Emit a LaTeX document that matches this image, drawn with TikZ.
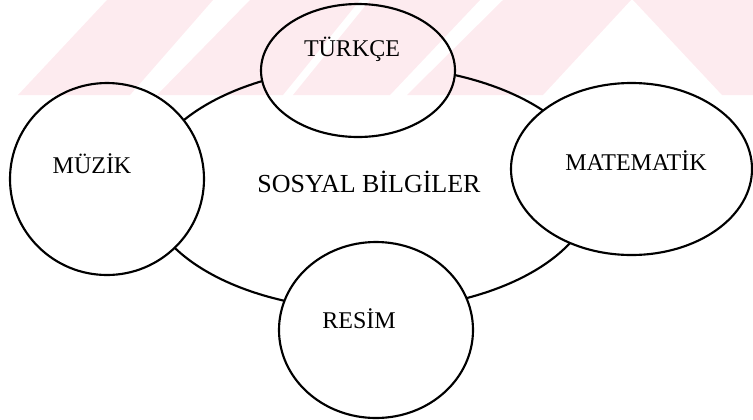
\documentclass[tikz,border=0pt]{standalone}
\usepackage{fontspec}
\setmainfont{Liberation Serif}
\usetikzlibrary{shapes.geometric}
\definecolor{wmpink}{RGB}{253,235,239}
\begin{document}
\begin{tikzpicture}[x=0.75pt,y=-0.75pt,
  subj/.style={draw=black,line width=1.6pt,ellipse,inner sep=0pt},
  lbl/.style={font=\fontsize{18}{20}\selectfont,anchor=base,inner sep=0pt},
  mainlbl/.style={font=\fontsize{19.5}{22}\selectfont,anchor=base,inner sep=0pt},
  wm/.style={fill=wmpink,draw=none}]
\useasboundingbox (0,0) rectangle (753,419);
% watermark band
\fill[wm] (18,95) -- (130,95) -- (213,0) -- (107,0) -- cycle;
\fill[wm] (157,95) -- (283,95) -- (360,0) -- (250,0) -- cycle;
\fill[wm] (293,95) -- (390,95) -- (480,0) -- (370,0) -- cycle;
\fill[wm] (407,95) -- (543,95) -- (631,0) -- (503,0) -- cycle;
\fill[wm] (633,0) -- (753,0) -- (753,95) -- (722,95) -- cycle;
% centres
\coordinate (cT) at (358,70.5);
\coordinate (cM) at (107,179);
\coordinate (cX) at (631.5,169);
\coordinate (cR) at (376,330);
\coordinate (cS) at (370,188);
% big ellipse, hidden inside the small ones
\begin{scope}[even odd rule]
\clip (-10,-10) rectangle (763,429)
  (cT) ellipse [x radius=97, y radius=66.5]
  (cM) ellipse [x radius=97, y radius=96]
  (cX) ellipse [x radius=120.5, y radius=86]
  (cR) ellipse [x radius=97, y radius=88];
\node[subj,minimum width=336pt,minimum height=183pt] (sos) at (cS) {};
\end{scope}
\node[subj,minimum width=145.5pt,minimum height=99.75pt] (tur) at (cT) {};
\node[subj,minimum width=145.5pt,minimum height=144pt] (muz) at (cM) {};
\node[subj,minimum width=180.75pt,minimum height=129pt] (mat) at (cX) {};
\node[subj,minimum width=145.5pt,minimum height=132pt] (res) at (cR) {};
% labels
\node[lbl] (tTur) at (352,56) {TÜRKÇE};
\node[lbl] (tMuz) at (92,173) {MÜZİK};
\node[lbl] (tMat) at (636,170) {MATEMATİK};
\node[lbl] (tRes) at (359,328) {RESİM};
\node[mainlbl] (tSos) at (369,192) {SOSYAL BİLGİLER};
\end{tikzpicture}
\end{document}
